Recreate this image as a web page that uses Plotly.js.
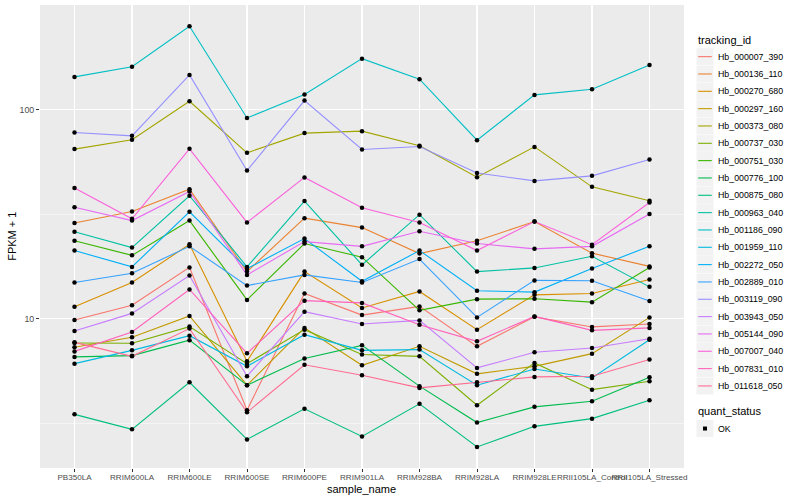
<!DOCTYPE html>
<html>
<head>
<meta charset="utf-8">
<script src="https://cdn.plot.ly/plotly-3.0.1.min.js"></script>
<style>html,body{margin:0;padding:0;background:#fff;}#chart{width:800px;height:500px;}</style>
</head>
<body>
<div id="chart"></div>
<script>
const categories = ["PB350LA","RRIM600LA","RRIM600LE","RRIM600SE","RRIM600PE","RRIM901LA","RRIM928BA","RRIM928LA","RRIM928LE","RRII105LA_Control","RRII105LA_Stressed"];

const Hb_000007_390 = [9.86, 11.6, 17.6, 3.64, 13.2, 10.4, 11.45, 7.37, 10.2, 9.13, 9.43];
const Hb_000136_110 = [28.7, 32.6, 41.7, 16.8, 30.3, 27.3, 20.5, 23.6, 29.2, 20.6, 17.8];
const Hb_000270_680 = [11.4, 14.9, 22.7, 6.25, 16.8, 11.25, 13.5, 8.86, 13.0, 13.2, 15.4];
const Hb_000297_160 = [7.29, 8.14, 10.3, 4.80, 9.03, 5.98, 7.37, 5.44, 5.91, 6.80, 10.14];
const Hb_000373_080 = [64.9, 71.9, 110, 62.3, 77.4, 79.1, 67.3, 47.6, 66.5, 42.8, 36.7];
const Hb_000737_030 = [7.65, 7.62, 9.16, 6.09, 8.86, 6.73, 6.60, 3.85, 6.14, 4.57, 5.01];
const Hb_000751_030 = [23.6, 20.1, 29.5, 12.3, 22.9, 19.7, 10.96, 12.4, 12.46, 12.0, 17.6];
const Hb_000776_100 = [6.56, 6.65, 7.89, 4.80, 6.44, 7.45, 4.75, 3.18, 3.78, 4.02, 5.24];
const Hb_000875_080 = [3.48, 2.95, 4.96, 2.64, 3.70, 2.73, 3.91, 2.43, 3.05, 3.32, 4.07];
const Hb_000963_040 = [26.1, 21.9, 38.8, 17.7, 36.6, 18.1, 31.5, 16.8, 17.5, 19.9, 14.2];
const Hb_001186_090 = [143.9, 161, 251.5, 91.5, 118.4, 176, 140.3, 71.6, 118, 125.6, 164];
const Hb_001959_110 = [6.09, 7.05, 8.29, 5.91, 8.38, 7.05, 7.11, 4.80, 5.74, 5.20, 7.93];
const Hb_002272_050 = [21.2, 17.7, 32.5, 17.35, 24.2, 15.1, 21.2, 13.6, 13.4, 17.4, 22.2];
const Hb_002889_010 = [14.9, 16.5, 22.2, 14.4, 16.2, 14.9, 19.3, 10.14, 15.25, 15.2, 12.15];
const Hb_003119_090 = [77.9, 75.1, 147, 51.2, 110.8, 64.6, 66.8, 49.9, 45.7, 48.3, 57.9];
const Hb_003943_050 = [8.73, 10.6, 16.1, 5.30, 10.8, 9.43, 9.81, 5.81, 6.90, 7.24, 8.02];
const Hb_005144_090 = [34.2, 29.5, 40.7, 16.2, 23.4, 22.2, 26.2, 22.9, 21.6, 22.2, 31.7];
const Hb_007007_040 = [42.2, 30.1, 65.1, 28.9, 47.5, 34.0, 28.9, 21.2, 29.2, 22.6, 36.0];
const Hb_007831_010 = [6.97, 8.64, 13.8, 6.82, 12.2, 11.9, 9.36, 7.79, 10.25, 8.79, 9.03];
const Hb_011618_050 = [7.70, 6.60, 8.96, 3.56, 6.01, 5.36, 4.66, 4.96, 5.26, 5.30, 6.37];

const seriesNames = ["Hb_000007_390","Hb_000136_110","Hb_000270_680","Hb_000297_160","Hb_000373_080","Hb_000737_030","Hb_000751_030","Hb_000776_100","Hb_000875_080","Hb_000963_040","Hb_001186_090","Hb_001959_110","Hb_002272_050","Hb_002889_010","Hb_003119_090","Hb_003943_050","Hb_005144_090","Hb_007007_040","Hb_007831_010","Hb_011618_050"];
const seriesValues = [Hb_000007_390,Hb_000136_110,Hb_000270_680,Hb_000297_160,Hb_000373_080,Hb_000737_030,Hb_000751_030,Hb_000776_100,Hb_000875_080,Hb_000963_040,Hb_001186_090,Hb_001959_110,Hb_002272_050,Hb_002889_010,Hb_003119_090,Hb_003943_050,Hb_005144_090,Hb_007007_040,Hb_007831_010,Hb_011618_050];
const seriesColors = ["#F8766D","#EA8331","#D89000","#C09B00","#A3A500","#7CAE00","#39B600","#00BB4E","#00BF7D","#00C1A3","#00BFC4","#00BAE0","#00B0F6","#35A2FF","#9590FF","#C77CFF","#E76BF3","#FA62DB","#FF62BC","#FF6C91"];

const yTickVals = [10, 100];
const yTickText = ["10", "100"];
const yMinorVals = [3.1623, 31.623, 316.23];
const statusLevels = ["OK"];
const legendTitle = "tracking_id";
const legend2Title = "quant_status";
const xTitle = "sample_name";
const yTitle = "FPKM + 1";

const FONT = "Liberation Sans, Arial, Helvetica, sans-serif";
const W = 800, H = 500;
const M = {l: 40, r: 115.5, t: 5, b: 31.5};
const PW = W - M.l - M.r, PH = H - M.t - M.b;
const px = x => (x - M.l) / PW;          // pixel -> paper x
const py = y => (H - M.b - y) / PH;      // pixel -> paper y

const traces = [];
seriesNames.forEach((name, i) => {
  traces.push({
    type: "scatter", mode: "lines", name: name,
    x: categories, y: seriesValues[i],
    line: {color: seriesColors[i], width: 1.1},
    showlegend: false, hoverinfo: "skip"
  });
});
seriesNames.forEach((name, i) => {
  traces.push({
    type: "scatter", mode: "markers", name: name + " pts",
    x: categories, y: seriesValues[i], showlegend: false,
    marker: {color: "#000000", size: 4.5, symbol: "circle"},
    hoverinfo: "skip"
  });
});

// custom ggplot-style legend built from the series lists
const shapes = [];
const annotations = [];
const keyX0 = 697, keySize = 17, step = 17.35, firstY = 56.7;
annotations.push({xref: "paper", yref: "paper", x: px(697), y: py(40.5), xanchor: "left", yanchor: "middle",
  text: legendTitle, showarrow: false, font: {family: FONT, size: 11, color: "#000"}});
seriesNames.forEach((name, i) => {
  const cy = firstY + i * step;
  shapes.push({type: "rect", xref: "paper", yref: "paper", x0: px(keyX0), x1: px(keyX0 + keySize),
    y0: py(cy - keySize / 2), y1: py(cy + keySize / 2), fillcolor: "#F2F2F2", line: {width: 0}, layer: "below"});
  shapes.push({type: "line", xref: "paper", yref: "paper", x0: px(keyX0 + 1.7), x1: px(keyX0 + keySize - 1.7),
    y0: py(cy), y1: py(cy), line: {color: seriesColors[i], width: 1.1}});
  annotations.push({xref: "paper", yref: "paper", x: px(717), y: py(cy), xanchor: "left", yanchor: "middle",
    text: name, showarrow: false, font: {family: FONT, size: 8.8, color: "#000"}});
});
annotations.push({xref: "paper", yref: "paper", x: px(697), y: py(411.5), xanchor: "left", yanchor: "middle",
  text: legend2Title, showarrow: false, font: {family: FONT, size: 11, color: "#000"}});
statusLevels.forEach((s, i) => {
  const cy = 429 + i * step;
  shapes.push({type: "rect", xref: "paper", yref: "paper", x0: px(keyX0), x1: px(keyX0 + keySize),
    y0: py(cy - keySize / 2), y1: py(cy + keySize / 2), fillcolor: "#F2F2F2", line: {width: 0}, layer: "below"});
  shapes.push({type: "rect", xref: "paper", yref: "paper", x0: px(keyX0 + keySize / 2 - 2), x1: px(keyX0 + keySize / 2 + 2),
    y0: py(cy - 2), y1: py(cy + 2), fillcolor: "#000000", line: {width: 0}});
  annotations.push({xref: "paper", yref: "paper", x: px(717), y: py(cy), xanchor: "left", yanchor: "middle",
    text: s, showarrow: false, font: {family: FONT, size: 8.8, color: "#000"}});
});
// axis titles
annotations.push({xref: "paper", yref: "paper", x: px(362), y: py(489.5), xanchor: "center", yanchor: "middle",
  text: xTitle, showarrow: false, font: {family: FONT, size: 11, color: "#000"}});
annotations.push({xref: "paper", yref: "paper", x: px(12), y: py(237), xanchor: "center", yanchor: "middle",
  text: yTitle, textangle: -90, showarrow: false, font: {family: FONT, size: 11, color: "#000"}});

const layout = {
  width: W, height: H,
  margin: M,
  paper_bgcolor: "#FFFFFF", plot_bgcolor: "#EBEBEB",
  font: {family: FONT, size: 9, color: "#000000"},
  showlegend: false,
  xaxis: {
    type: "category", range: [-0.6, 10.6], categoryorder: "array", categoryarray: categories,
    showgrid: true, gridcolor: "#FFFFFF", gridwidth: 1.1, zeroline: false, showline: false,
    ticks: "outside", ticklen: 3, tickwidth: 1, tickcolor: "#333333", tickangle: 0,
    ticklabelstandoff: -2,
    tickfont: {family: FONT, size: 8.1, color: "#4D4D4D"},
    automargin: false
  },
  yaxis: {
    type: "log", range: [0.2847, 2.5024],
    tickmode: "array", tickvals: yTickVals, ticktext: yTickText,
    showgrid: true, gridcolor: "#FFFFFF", gridwidth: 1.1, zeroline: false, showline: false,
    ticks: "outside", ticklen: 3, tickwidth: 1, tickcolor: "#333333",
    tickfont: {family: FONT, size: 8.8, color: "#4D4D4D"},
    minor: {tickmode: "array", tickvals: yMinorVals, showgrid: true, gridcolor: "#FFFFFF", gridwidth: 0.5, ticks: ""},
    automargin: false
  },
  shapes: shapes,
  annotations: annotations
};

Plotly.newPlot("chart", traces, layout, {staticPlot: true, displayModeBar: false});
</script>
</body>
</html>
